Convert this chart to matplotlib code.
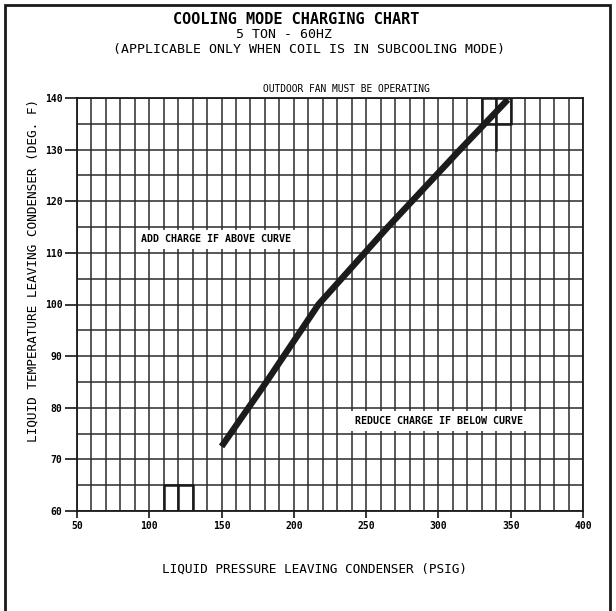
import matplotlib

matplotlib.use("Agg")

import matplotlib.pyplot as plt  # noqa: E402
from matplotlib.patches import Rectangle  # noqa: E402

# charging curve (psig -> deg F)
pressure = [150, 181, 217, 265, 315, 348]
liquid_temp = [72.5, 85, 100, 115, 130, 139.7]

x_ticks = [50, 100, 150, 200, 250, 300, 350, 400]
y_ticks = [60, 70, 80, 90, 100, 110, 120, 130, 140]

# heavier grid cells left over from the drawing
box_low_x = [110, 130, 130, 110, 110]
box_low_y = [60, 60, 65, 65, 60]
box_low_mid_x = [120, 120]
box_low_mid_y = [60, 65]
box_high_x = [330, 350, 350, 330, 330]
box_high_y = [135, 135, 140, 140, 135]
box_high_mid_x = [340, 340]
box_high_mid_y = [130, 140]

W, H = 616, 611
MONO = "DejaVu Sans Mono"


def fx(px):
    return px / W


def fy(py):
    return 1 - py / H


fig = plt.figure(figsize=(W / 100, H / 100), dpi=100)
ax = fig.add_axes([fx(77), fy(511), fx(583) - fx(77), fy(98) - fy(511)])

ax.set_xlim(50, 400)
ax.set_ylim(60, 140)
ax.set_xticks(x_ticks)
ax.set_xticks(range(50, 401, 10), minor=True)
ax.set_yticks(y_ticks)
ax.set_yticks(range(60, 141, 5), minor=True)
ax.grid(which="both", color="#2b2b2b", linewidth=1.1, zorder=1)
ax.set_axisbelow(True)
ax.tick_params(which="minor", length=0)
ax.tick_params(axis="y", which="major", length=9, width=1.1, pad=1.5)
ax.tick_params(axis="x", which="major", length=5, width=1.1, pad=2)
for lab in ax.get_xticklabels() + ax.get_yticklabels():
    lab.set_fontfamily(MONO)
    lab.set_fontweight("bold")
    lab.set_fontsize(7)
for sp in ax.spines.values():
    sp.set_linewidth(1.3)
    sp.set_color("#1a1a1a")

for xs, ys in [(box_low_x, box_low_y), (box_low_mid_x, box_low_mid_y),
               (box_high_x, box_high_y), (box_high_mid_x, box_high_mid_y)]:
    ax.plot(xs, ys, color="#1a1a1a", linewidth=1.8, zorder=2)

ax.plot(pressure, liquid_temp, color="#1c1a1a", linewidth=4.6,
        solid_capstyle="butt", solid_joinstyle="round", zorder=5)

box = dict(facecolor="white", edgecolor="none", pad=3.5)
ax.text(146, 112.6, "ADD CHARGE IF ABOVE CURVE", fontfamily=MONO,
        fontweight="bold", fontsize=7.2, ha="center", va="center",
        bbox=box, zorder=4)
ax.text(300.5, 77.4, "REDUCE CHARGE IF BELOW CURVE", fontfamily=MONO,
        fontweight="bold", fontsize=7.2, ha="center", va="center",
        bbox=box, zorder=4)

fig.text(fx(296), fy(20), "COOLING MODE CHARGING CHART", fontfamily=MONO,
         fontweight="bold", fontsize=11, ha="center", va="center")
fig.text(fx(284), fy(35), "5 TON - 60HZ", fontfamily=MONO,
         fontsize=9.5, ha="center", va="center")
fig.text(fx(309), fy(49), "(APPLICABLE ONLY WHEN COIL IS IN SUBCOOLING MODE)",
         fontfamily=MONO, fontsize=9.5, ha="center", va="center")
fig.text(fx(346), fy(89), "OUTDOOR FAN MUST BE OPERATING", fontfamily=MONO,
         fontsize=6.9, ha="center", va="center")
fig.text(fx(314), fy(569), "LIQUID PRESSURE LEAVING CONDENSER (PSIG)",
         fontfamily=MONO, fontsize=9.2, ha="center", va="center")
fig.text(fx(33), fy(270), "LIQUID TEMPERATURE LEAVING CONDENSER (DEG. F)",
         fontfamily=MONO, fontsize=9.2, ha="center", va="center",
         rotation=90)

fig.patches.append(Rectangle((fx(5), -0.05), fx(610) - fx(5), fy(5) + 0.05,
                             transform=fig.transFigure, fill=False,
                             linewidth=2, edgecolor="#1a1a1a"))

fig.savefig("out.png", dpi=100)
